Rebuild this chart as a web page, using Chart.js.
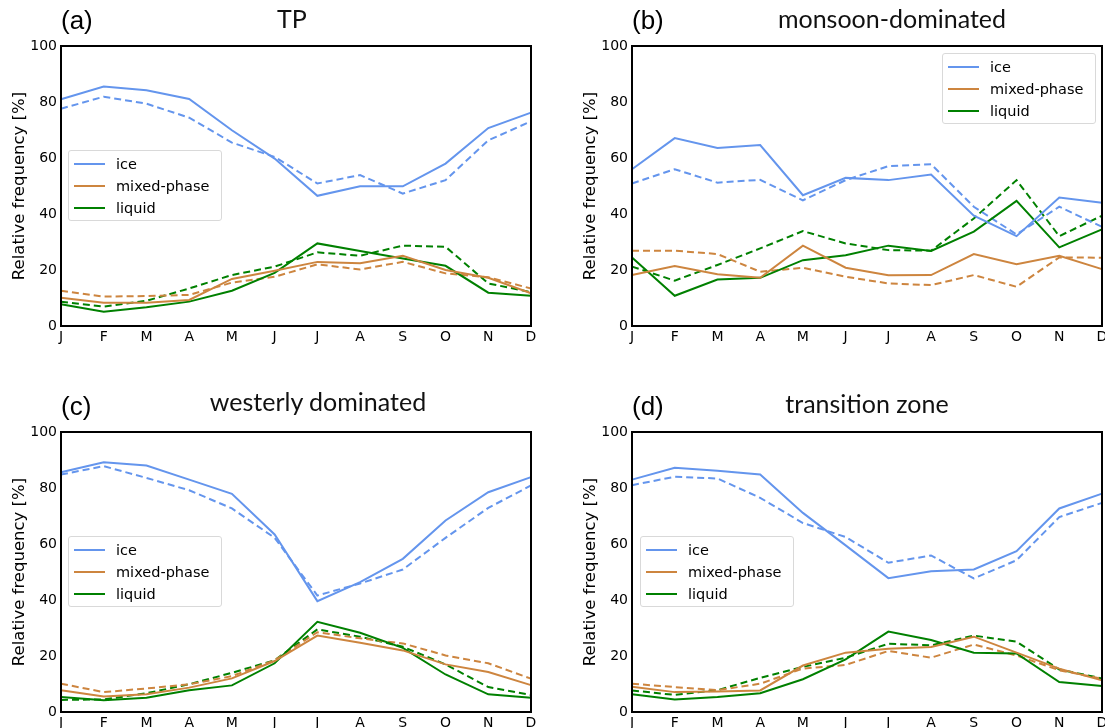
<!DOCTYPE html>
<html><head><meta charset="utf-8">
<script src="https://cdn.jsdelivr.net/npm/chart.js@4.4.1/dist/chart.umd.min.js"></script>
<style>
html,body{margin:0;padding:0;background:#fff;overflow:hidden;width:1105px;height:728px;}
body{position:relative;font-family:"DejaVu Sans",sans-serif;}
.pc{position:absolute;}
.ttl{position:absolute;font-family:Lato,sans-serif;font-size:25px;color:#111;white-space:nowrap;transform:translateX(-50%);line-height:1;}
.plab{position:absolute;font-family:"Liberation Sans",Arial,sans-serif;font-size:26px;color:#000;line-height:1;}
.leg{position:absolute;border:1px solid #d9d9d9;border-radius:3px;background:rgba(255,255,255,0.85);box-sizing:border-box;width:154px;height:71px;}
.row{position:absolute;left:0;height:22px;width:150px;}
.sw{position:absolute;left:5px;width:31px;height:2px;top:10px;}
.lt{position:absolute;left:47px;top:2px;font-size:14.5px;line-height:18px;color:#000;white-space:nowrap;}
</style></head>
<body>
<script>
// ---- data ----
const months = ['J','F','M','A','M','J','J','A','S','O','N','D'];
const yTicks = [0, 20, 40, 60, 80, 100];
const seriesNames = ['ice', 'mixed-phase', 'liquid'];
const panelTitles = ['TP', 'monsoon-dominated', 'westerly dominated', 'transition zone'];
const panelLabels = ['(a)', '(b)', '(c)', '(d)'];

// (a) TP
const tpIce       = [81.0, 85.5, 84.2, 81.1, 69.9, 59.8, 46.5, 49.9, 49.9, 58.0, 70.7, 76.2];
const tpIceB      = [77.6, 81.9, 79.4, 74.4, 65.5, 60.4, 50.9, 53.9, 47.3, 52.1, 66.3, 73.1];
const tpMixed     = [10.1, 8.3, 8.3, 9.3, 16.8, 19.7, 22.9, 22.4, 25.1, 20.0, 17.2, 11.7];
const tpMixedB    = [12.6, 10.5, 10.7, 11.1, 15.5, 17.6, 22.0, 20.2, 22.9, 18.8, 17.4, 13.4];
const tpLiquid    = [7.8, 5.1, 6.7, 8.7, 12.6, 19.0, 29.5, 26.8, 24.1, 21.5, 11.9, 10.8];
const tpLiquidB   = [8.7, 6.9, 9.0, 13.4, 18.2, 21.2, 26.3, 25.1, 28.7, 28.3, 15.2, 12.1];

// (b) monsoon-dominated
const monIce      = [56.0, 67.1, 63.6, 64.6, 46.7, 52.9, 52.1, 54.1, 39.4, 32.1, 45.9, 44.0];
const monIceB     = [50.9, 56.0, 51.2, 52.2, 44.9, 52.1, 57.1, 57.8, 42.6, 32.7, 42.6, 35.4];
const monMixed    = [18.2, 21.4, 18.5, 17.2, 28.7, 20.8, 18.1, 18.2, 25.7, 22.1, 25.1, 20.3];
const monMixedB   = [26.9, 26.9, 25.7, 19.4, 20.8, 17.6, 15.2, 14.6, 18.2, 14.0, 24.5, 24.4];
const monLiquid   = [24.5, 10.8, 16.6, 17.2, 23.5, 25.3, 28.7, 26.8, 33.7, 44.7, 28.1, 34.5];
const monLiquidB  = [21.2, 16.2, 21.8, 27.7, 33.9, 29.5, 27.1, 26.9, 38.4, 52.1, 32.1, 39.4];

// (c) westerly dominated
const wesIce      = [85.6, 89.2, 88.0, 83.0, 77.9, 63.4, 39.6, 46.4, 54.7, 68.4, 78.5, 83.9];
const wesIceB     = [84.8, 87.8, 83.6, 79.2, 72.7, 62.2, 41.6, 45.9, 50.9, 62.2, 72.9, 80.9];
const wesMixed    = [7.8, 5.5, 6.3, 8.7, 12.0, 18.2, 27.3, 24.7, 22.0, 17.0, 14.3, 9.6];
const wesMixedB   = [10.1, 7.1, 8.4, 9.9, 12.8, 18.5, 28.5, 26.3, 24.5, 20.2, 17.4, 11.9];
const wesLiquid   = [5.4, 4.2, 5.1, 7.8, 9.5, 17.4, 32.2, 28.3, 22.9, 13.4, 6.3, 5.1];
const wesLiquidB  = [4.3, 4.5, 6.7, 9.9, 14.0, 18.5, 29.5, 26.9, 23.3, 17.0, 8.9, 6.1];

// (d) transition zone
const traIce      = [83.0, 87.2, 86.2, 84.8, 71.1, 59.5, 47.8, 50.3, 50.9, 57.4, 72.7, 78.0];
const traIceB     = [81.0, 84.0, 83.4, 76.5, 67.5, 62.5, 53.3, 55.9, 47.7, 54.2, 69.6, 74.7];
const traMixed    = [9.0, 7.1, 7.3, 7.7, 16.6, 21.2, 22.6, 23.2, 26.9, 21.2, 15.5, 11.3];
const traMixedB   = [10.1, 8.9, 7.8, 10.1, 15.5, 16.8, 21.8, 19.4, 24.1, 20.2, 14.9, 11.9];
const traLiquid   = [6.3, 4.5, 5.4, 6.7, 11.7, 18.8, 28.7, 25.7, 21.2, 20.9, 10.7, 9.3];
const traLiquidB  = [7.7, 6.1, 7.8, 12.2, 16.1, 19.4, 24.4, 23.8, 27.3, 25.1, 15.2, 12.0];

// ---- styling / layout ----
const colors = ['#6495ED', '#CD853F', '#008000'];
const panelData = [
  [tpIce, tpMixed, tpLiquid, tpIceB, tpMixedB, tpLiquidB],
  [monIce, monMixed, monLiquid, monIceB, monMixedB, monLiquidB],
  [wesIce, wesMixed, wesLiquid, wesIceB, wesMixedB, wesLiquidB],
  [traIce, traMixed, traLiquid, traIceB, traMixedB, traLiquidB]
];
const panelPos = [ {left:0, top:0}, {left:571, top:0}, {left:0, top:386}, {left:571, top:386} ];
const legendPos = [ {left:68, top:150}, {left:942, top:53}, {left:68, top:536}, {left:640, top:536} ];
const titleCenter = [292, 892, 318, 867];
const titleTop = [6, 6, 389, 391];
const CW = 552, CH = 364, PL = 61, PT = 46, PR = 21, XH = 38;

const frame = {
  id: 'frame',
  afterDraw(chart) {
    const a = chart.chartArea, c = chart.ctx;
    c.save(); c.strokeStyle = '#000'; c.lineWidth = 2;
    c.strokeRect(a.left, a.top, a.right - a.left, a.bottom - a.top);
    c.restore();
  }
};

panelData.forEach((arrs, p) => {
  const pos = panelPos[p];
  const cv = document.createElement('canvas');
  cv.width = CW; cv.height = CH; cv.className = 'pc';
  cv.style.left = pos.left + 'px'; cv.style.top = pos.top + 'px';
  cv.style.width = CW + 'px'; cv.style.height = CH + 'px';
  document.body.appendChild(cv);

  const datasets = arrs.map((d, i) => ({
    label: seriesNames[i % 3],
    data: d,
    borderColor: colors[i % 3],
    backgroundColor: colors[i % 3],
    borderWidth: 2,
    borderDash: i >= 3 ? [7, 4] : [],
    pointRadius: 0,
    tension: 0,
    fill: false
  }));

  new Chart(cv, {
    type: 'line',
    data: { labels: months, datasets },
    options: {
      responsive: false, animation: false, devicePixelRatio: 1,
      layout: { padding: { left: 0, top: PT, right: PR, bottom: 0 } },
      plugins: { legend: { display: false }, tooltip: { enabled: false }, title: { display: false } },
      scales: {
        x: {
          type: 'category', offset: false,
          grid: { display: false, drawTicks: false },
          border: { display: false },
          ticks: { autoSkip: false, maxRotation: 0, minRotation: 0, padding: 3, color: '#000',
                   font: { family: 'DejaVu Sans', size: 14 } },
          afterFit(s) { s.height = XH; }
        },
        y: {
          min: 0, max: 100,
          afterBuildTicks(s) { s.ticks = yTicks.map(v => ({ value: v })); },
          grid: { display: false, drawTicks: false },
          border: { display: false },
          ticks: { padding: 4, color: '#000', font: { family: 'DejaVu Sans', size: 14 } },
          title: { display: true, text: 'Relative frequency [%]', color: '#000',
                   font: { family: 'DejaVu Sans', size: 16.5 }, padding: { top: 10, bottom: 0 } },
          afterFit(s) { s.width = PL; }
        }
      }
    },
    plugins: [frame]
  });

  // title and panel label
  const t = document.createElement('div');
  t.className = 'ttl'; t.textContent = panelTitles[p];
  t.style.left = titleCenter[p] + 'px';
  t.style.top = titleTop[p] + 'px';
  document.body.appendChild(t);
  const l = document.createElement('div');
  l.className = 'plab'; l.textContent = panelLabels[p];
  l.style.left = (pos.left + 61) + 'px'; l.style.top = (pos.top + 7) + 'px';
  document.body.appendChild(l);

  // legend
  const lg = document.createElement('div');
  lg.className = 'leg';
  lg.style.left = legendPos[p].left + 'px'; lg.style.top = legendPos[p].top + 'px';
  seriesNames.forEach((n, i) => {
    const r = document.createElement('div'); r.className = 'row';
    r.style.top = (2 + i * 22) + 'px';
    const sw = document.createElement('div'); sw.className = 'sw'; sw.style.background = colors[i];
    const tx = document.createElement('div'); tx.className = 'lt'; tx.textContent = n;
    r.appendChild(sw); r.appendChild(tx); lg.appendChild(r);
  });
  document.body.appendChild(lg);
});
</script>
</body></html>
